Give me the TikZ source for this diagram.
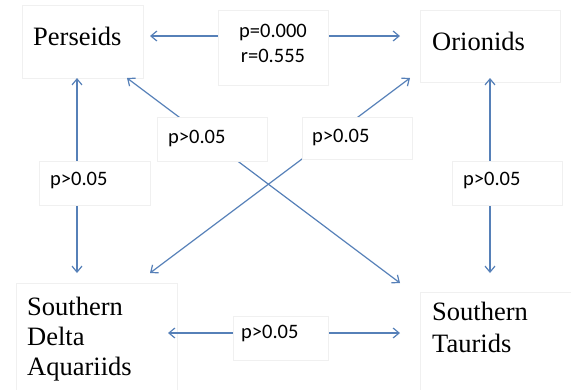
\documentclass[tikz,border=0pt]{standalone}
\usepackage{fontspec}
\setmainfont{Liberation Serif}
\newfontfamily\labfont{Carlito}
\usetikzlibrary{arrows.meta}
\definecolor{arrc}{RGB}{86,128,184}
\definecolor{boxc}{RGB}{240,240,240}
\begin{document}
\begin{tikzpicture}[x=1pt,y=-1pt,
  boxline/.style={draw=boxc, line width=0.8pt, rectangle, inner sep=0pt},
  mainbox/.style={boxline},
  labbox/.style={boxline, fill=white},
  nametext/.style={font=\fontsize{26.5}{32}\selectfont, inner sep=0pt, align=left},
  labtext/.style={font=\labfont\fontsize{20.5}{25}\selectfont, inner sep=0pt, align=center},
  barb/.tip={Straight Barb[length=6pt,width=10pt,line width=1.2pt]},
  arr/.style={draw=arrc, line width=1.2pt, barb-barb}]
\useasboundingbox (0,0) rectangle (571,389);
% main boxes
\node[mainbox, minimum width=121, minimum height=73] (pers) at (82.5,41.5) {};
\node[mainbox, minimum width=140, minimum height=72] (ori) at (490,46) {};
\node[mainbox, minimum width=161, minimum height=112] (sda) at (96.5,339) {};
\node[mainbox, minimum width=160, minimum height=105] (tau) at (500,344.5) {};
\node[nametext, anchor=base west] (perst) at (33,45) {Perseids};
\node[nametext, anchor=base west] (orit) at (432,50) {Orionids};
\node[nametext, font=\fontsize{26.5}{30}\selectfont, anchor=north west] (sdat) at (27,297) {Southern\\Delta\\Aquariids};
\node[nametext, anchor=north west] (taut) at (432,302) {Southern\\Taurids};
% connector end points
\coordinate (pE) at (150,36);
\coordinate (oW) at (400,36);
\coordinate (pS) at (77,78);
\coordinate (sN) at (77,273);
\coordinate (pSE) at (127,78);
\coordinate (tNW) at (400,283);
\coordinate (oSW) at (410,78);
\coordinate (sNE) at (150,273);
\coordinate (oS) at (490,78);
\coordinate (tN) at (490,273);
\coordinate (sE) at (168,333);
\coordinate (tW) at (400,333);
% connectors
\draw[arr] (pE) -- (oW);
\draw[arr] (pS) -- (sN);
\draw[arr] (pSE) -- (tNW);
\draw[arr] (oSW) -- (sNE);
\draw[arr] (oS) -- (tN);
\draw[arr] (sE) -- (tW);
% label boxes
\node[labbox, minimum width=110, minimum height=75] (l0) at (273,47.5) {};
\node[labbox, minimum width=110, minimum height=44] (l1) at (212,139) {};
\node[labbox, minimum width=111, minimum height=44] (l2) at (94.5,183) {};
\node[labbox, minimum width=110, minimum height=42] (l3) at (357,138) {};
\node[labbox, minimum width=110, minimum height=44] (l4) at (507,183) {};
\node[labbox, minimum width=95, minimum height=44] (l5) at (280.5,338) {};
\node[labtext, anchor=north] (l0t) at (273,24.3) {p=0.000\\r=0.555};
\node[labtext, anchor=base west] (l1t) at (168,143) {p>0.05};
\node[labtext, anchor=base west] (l2t) at (50,185) {p>0.05};
\node[labtext, anchor=base west] (l3t) at (312,142) {p>0.05};
\node[labtext, anchor=base west] (l4t) at (463,185) {p>0.05};
\node[labtext, anchor=base west] (l5t) at (241,338) {p>0.05};
\end{tikzpicture}
\end{document}
